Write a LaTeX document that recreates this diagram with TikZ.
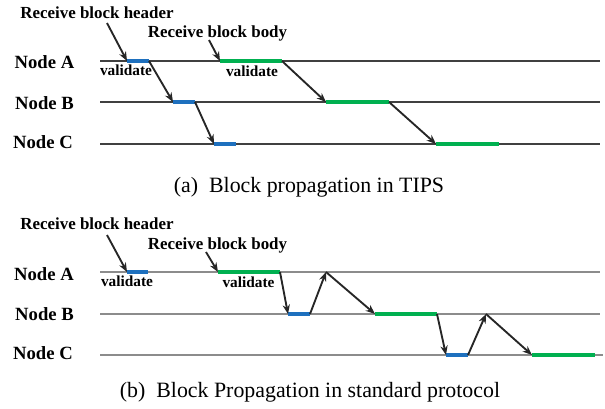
\documentclass[tikz,border=0pt]{standalone}
\usepackage{fontspec}
\setmainfont{Liberation Serif}
\usetikzlibrary{arrows.meta}
\definecolor{hdrblue}{RGB}{30,112,190}
\definecolor{bdygreen}{RGB}{0,176,80}

\begin{document}
\begin{tikzpicture}[x=0.75pt,y=0.75pt,yscale=-1,
    >={Stealth[length=7pt,width=5.5pt]},
    lane/.style={draw=black!75,line width=0.9pt},
    lanegray/.style={draw=black!45,line width=1.4pt},
    hdr/.style={draw=hdrblue,line width=3pt},
    bdy/.style={draw=bdygreen,line width=3pt},
    hop/.style={->,draw=black!85,line width=1.4pt},
    nname/.style={anchor=base,inner sep=0pt,font=\fontsize{14}{16}\selectfont\bfseries},
    note/.style={anchor=base,inner sep=0pt,font=\fontsize{12.7}{14}\selectfont\bfseries},
    vtag/.style={anchor=base,inner sep=0pt,font=\fontsize{11.5}{13}\selectfont\bfseries},
    capt/.style={anchor=base,inner sep=0pt,font=\fontsize{16.4}{19}\selectfont}]
  \useasboundingbox (0,0) rectangle (605,408);

  %% (a) TIPS
  \node[nname] (tA) at (44.5,68.5) {Node A};
  \node[nname] (tB) at (44.5,109) {Node B};
  \node[nname] (tC) at (43,148.5) {Node C};
  \draw[lane] (100,61) coordinate (tAl) -- (600,61) coordinate (tAr);
  \draw[lane] (100,102) coordinate (tBl) -- (600,102) coordinate (tBr);
  \draw[lane] (100,144) coordinate (tCl) -- (600,144) coordinate (tCr);

  \draw[hdr] (127,61) coordinate (thA) -- (149,61) coordinate (thA');
  \draw[hdr] (173,102) coordinate (thB) -- (195,102) coordinate (thB');
  \draw[hdr] (214,144) coordinate (thC) -- (236,144) coordinate (thC');
  \draw[bdy] (220,61) coordinate (tbA) -- (282,61) coordinate (tbA');
  \draw[bdy] (326,102) coordinate (tbB) -- (389,102) coordinate (tbB');
  \draw[bdy] (436,144) coordinate (tbC) -- (499,144) coordinate (tbC');

  \draw[hop] (thA') -- (thB);
  \draw[hop] (thB') -- (thC);
  \draw[hop] (tbA') -- (tbB);
  \draw[hop] (tbB') -- (tbC);

  \node[note] (trh) at (97,18.5) {Receive block header};
  \node[note] (trb) at (217.5,37.5) {Receive block body};
  \coordinate (trh0) at (107,23);
  \coordinate (trb0) at (209,40);
  \draw[hop] (trh0) -- (thA);
  \draw[hop] (trb0) -- (tbA);
  \node[vtag] (tvh) at (126,75.5) {validate};
  \node[vtag] (tvb) at (252,76) {validate};

  \node[capt] (capa) at (309,192.5) {(a)\ \ Block propagation in TIPS};

  %% (b) standard protocol
  \node[nname] (sA) at (44,280) {Node A};
  \node[nname] (sB) at (44.5,320.5) {Node B};
  \node[nname] (sC) at (43,359.5) {Node C};
  \draw[lanegray] (100,272) coordinate (sAl) -- (600,272) coordinate (sAr);
  \draw[lanegray] (100,314) coordinate (sBl) -- (600,314) coordinate (sBr);
  \draw[lanegray] (100,355) coordinate (sCl) -- (603,355) coordinate (sCr);

  \draw[hdr] (127,272) coordinate (shA) -- (148,272) coordinate (shA');
  \draw[bdy] (218,272) coordinate (sbA) -- (280,272) coordinate (sbA');
  \draw[hdr] (288,314) coordinate (shB) -- (310,314) coordinate (shB');
  \draw[bdy] (375,314) coordinate (sbB) -- (437,314) coordinate (sbB');
  \draw[hdr] (446,355) coordinate (shC) -- (468,355) coordinate (shC');
  \draw[bdy] (532,355) coordinate (sbC) -- (595,355) coordinate (sbC');
  \coordinate (sqA) at (326,272);
  \coordinate (sqB) at (486,314);

  %% header, request, body
  \draw[hop] (sbA') -- (shB);
  \draw[hop] (shB') -- (sqA);
  \draw[hop] (sqA) -- (sbB);
  \draw[hop] (sbB') -- (shC);
  \draw[hop] (shC') -- (sqB);
  \draw[hop] (sqB) -- (sbC);

  \node[note] (srh) at (97,229) {Receive block header};
  \node[note] (srb) at (217.5,249) {Receive block body};
  \coordinate (srh0) at (107,235);
  \coordinate (srb0) at (206,252);
  \draw[hop] (srh0) -- (shA);
  \draw[hop] (srb0) -- (sbA);
  \node[vtag] (svh) at (127,286.5) {validate};
  \node[vtag] (svb) at (248.5,287) {validate};

  \node[capt] (capb) at (310,397) {(b)\ \ Block Propagation in standard protocol};
\end{tikzpicture}
\end{document}
